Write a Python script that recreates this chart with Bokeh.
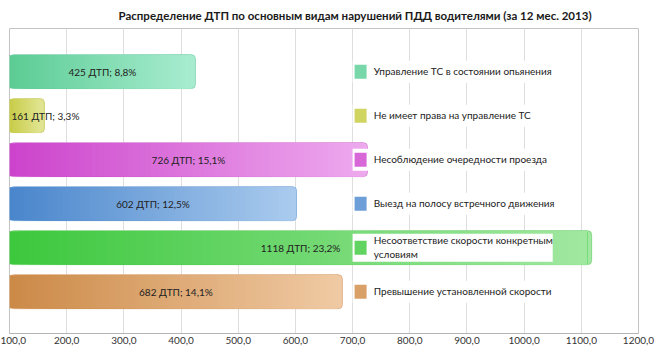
from bokeh.plotting import figure
from bokeh.models import ColumnDataSource, Range1d, FixedTicker
from bokeh.core.properties import value
from bokeh.embed import file_html
from bokeh.resources import INLINE

# ---------------- data ----------------
title_text = "Распределение ДТП по основным видам нарушений ПДД водителями (за 12 мес. 2013)"
categories = [
    "Управление ТС в состоянии опьянения",
    "Не имеет права на управление ТС",
    "Несоблюдение очередности проезда",
    "Выезд на полосу встречного движения",
    "Несоответствие скорости конкретным\nусловиям",
    "Превышение установленной скорости",
]
counts = [425, 161, 726, 602, 1118, 682]
percents = ["8,8%", "3,3%", "15,1%", "12,5%", "23,2%", "14,1%"]
x_ticks = [100, 200, 300, 400, 500, 600, 700, 800, 900, 1000, 1100, 1200]
x_tick_labels = ["100,0", "200,0", "300,0", "400,0", "500,0", "600,0",
                 "700,0", "800,0", "900,0", "1000,0", "1100,0", "1200,0"]

# ---------------- styles ----------------
X_MIN, X_MAX = 100, 1200
FONT = "Lato"
TITLE_FONT = "Lato"
left_colors = ["#5ccc94", "#c8cc48", "#cc44cc", "#4a86cc", "#3ec83e", "#cc8a48"]
right_colors = ["#a8ecd0", "#e0e490", "#eeaaee", "#aacbee", "#a2e8a2", "#f0caa4"]
edge_colors = ["#8cd8b8", "#cdd070", "#dc90dc", "#8cb4e0", "#86d886", "#e0b088"]
N_SLICES = 60
BAR_H = 0.77
RADIUS_DATA = 8
LEG_LEFT, LEG_RIGHT = 700, 1050
LEG_SWATCH_X = 714
LEG_TEXT_X = 737


def hex2rgb(h):
    h = h.lstrip("#")
    return tuple(int(h[i:i + 2], 16) for i in (0, 2, 4))


def mix(c1, c2, t):
    a, b = hex2rgb(c1), hex2rgb(c2)
    return "#%02x%02x%02x" % tuple(round(a[k] + (b[k] - a[k]) * t) for k in range(3))


n = len(categories)
ys = [n - 1 - i for i in range(n)]

p = figure(width=654, height=356, output_backend="svg", toolbar_location=None,
           x_range=Range1d(X_MIN, X_MAX), y_range=Range1d(-0.95, n - 0.02),
           y_axis_location=None, min_border_left=9, min_border_right=16,
           min_border_top=28, min_border_bottom=23)

p.title.text = title_text
p.title.align = "left"
p.title.offset = 109
p.title.standoff = 11
p.title.vertical_align = "middle"
p.title.text_font = TITLE_FONT
p.title.text_font_style = "bold"
p.title.text_font_size = "11.5px"
p.title.text_color = "#1a1a1a"

p.outline_line_color = "#c4c4c4"
p.xgrid.grid_line_color = "#dedede"
p.ygrid.visible = False
p.xaxis.ticker = FixedTicker(ticks=x_ticks)
p.xaxis.major_label_overrides = dict(zip(x_ticks, x_tick_labels))
p.xaxis.axis_line_color = "#b4b4b4"
p.xaxis.major_tick_line_color = None
p.xaxis.major_tick_out = 0
p.xaxis.major_tick_in = 0
p.xaxis.minor_tick_line_color = None
p.xaxis.major_label_text_font = FONT
p.xaxis.major_label_text_font_size = "10px"
p.xaxis.major_label_text_color = "#333333"
p.xaxis.major_label_standoff = 3

# base bars (right colour, rounded right end)
base = ColumnDataSource(dict(y=ys, right=counts, color=right_colors, edge=edge_colors))
p.hbar(y="y", left=0, right="right", height=BAR_H, source=base,
       fill_color="color", line_color="edge", line_width=1, border_radius=4)

# gradient slices: every slice runs to the bar end, lighter slices on top
sl = dict(y=[], left=[], right=[], color=[])
for i in range(n):
    end = counts[i] - RADIUS_DATA
    for k in range(N_SLICES):
        t = k / N_SLICES
        sl["y"].append(ys[i])
        sl["left"].append(X_MIN - 5 if k == 0 else X_MIN + (end - X_MIN) * t)
        sl["right"].append(end)
        sl["color"].append(mix(left_colors[i], right_colors[i], t))
p.hbar(y="y", left="left", right="right", height=BAR_H - 0.02,
       source=ColumnDataSource(sl), fill_color="color", line_color=None)

# value labels, centred on the visible part of each bar (short bar: left aligned)
short = [(c - X_MIN) < 120 for c in counts]
lab = ColumnDataSource(dict(
    x=[X_MIN if s else (X_MIN + c) / 2 for c, s in zip(counts, short)], y=ys,
    align=["left" if s else "center" for s in short],
    dx=[2 if s else 0 for s in short],
    text=[f"{c} ДТП; {pc}" for c, pc in zip(counts, percents)]))
p.text(x="x", y="y", text="text", source=lab, text_align="align", x_offset="dx",
       text_baseline="middle", text_font=value(FONT), text_font_size="10px",
       text_color="#222222")

# legend drawn item by item, each on its own white box
box_h = [28 if "\n" in c else 22 for c in categories]
mid_colors = [mix(a, b, 0.35) for a, b in zip(left_colors, right_colors)]
leg = ColumnDataSource(dict(y=ys, h=box_h, color=mid_colors, text=categories))
p.rect(x=(LEG_LEFT + LEG_RIGHT) / 2, y="y", width=LEG_RIGHT - LEG_LEFT,
       height="h", height_units="screen", source=leg,
       fill_color="white", line_color=None)
p.rect(x=LEG_SWATCH_X, y="y", width=12, height=14, width_units="screen",
       height_units="screen", source=leg, fill_color="color", line_color=None)
p.text(x=LEG_TEXT_X, y="y", text="text", source=leg, text_align="left",
       text_baseline="middle", text_font=value(FONT), text_font_size="10px",
       text_color="#222222", text_line_height=1.15, y_offset=-1)

open("out.html", "w").write(file_html(p, INLINE))
